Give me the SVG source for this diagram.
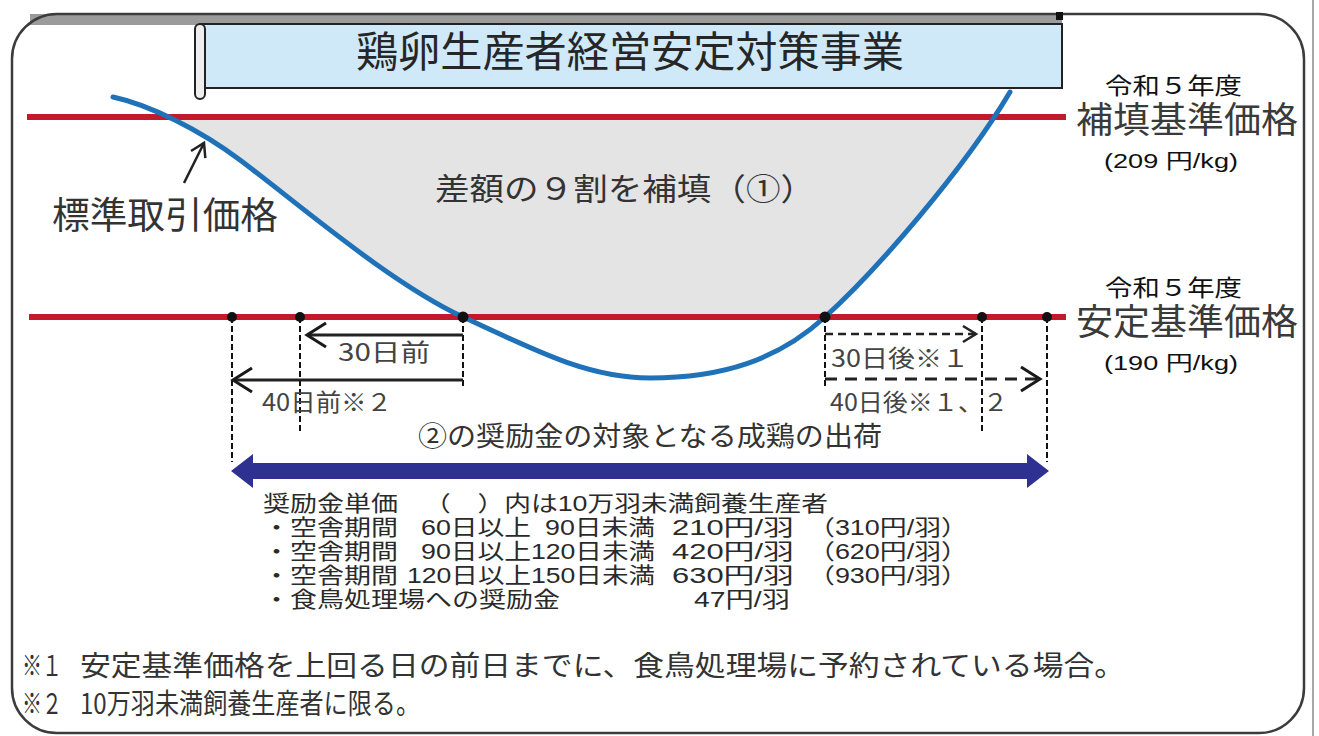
<svg xmlns="http://www.w3.org/2000/svg" width="1319" height="736" viewBox="0 0 1319 736">
  <style>
    text { font-family: "Noto Sans CJK JP", "Noto Sans", sans-serif; fill: #2a2a2a; }
    .title { font-size: 42px; fill: #262626; }
    .era { font-family: "Liberation Sans", "Noto Sans CJK JP", sans-serif; font-size: 23px; fill: #111; }
    .price { font-family: "Liberation Sans", "Noto Sans CJK JP", sans-serif; font-size: 36px; fill: #3a3a3a; }
    .yen { font-family: "Liberation Sans", "Noto Sans CJK JP", sans-serif; font-size: 21px; fill: #111; }
    .big { font-size: 31px; fill: #333; }
    .lbl { font-size: 24px; fill: #444; }
    .mid { font-size: 27px; fill: #333; }
    .tb { font-family: "Liberation Sans", "Noto Sans CJK JP", sans-serif; font-size: 21.5px; fill: #2a2a2a; }
    .fn { font-size: 28px; fill: #333; }
    .red { stroke: #c4182b; stroke-width: 6; }
    .vd { stroke: #111; stroke-width: 2; stroke-dasharray: 6 3; fill: none; }
    .dot { fill: #111; }
  </style>
  <defs>
    <marker id="chev" markerUnits="userSpaceOnUse" viewBox="0 0 24 28" refX="21" refY="14" markerWidth="24" markerHeight="28" orient="auto">
      <path d="M2,2 L21,14 L2,26" fill="none" stroke="#1a1a1a" stroke-width="3"/>
    </marker>
    <marker id="chevS" markerUnits="userSpaceOnUse" viewBox="0 0 18 20" refX="15" refY="10" markerWidth="18" markerHeight="20" orient="auto">
      <path d="M2,2 L15,10 L2,18" fill="none" stroke="#222" stroke-width="2.5"/>
    </marker>
    <clipPath id="band"><rect x="0" y="120" width="1319" height="197"/></clipPath>
  </defs>

  <rect width="1319" height="736" fill="#ffffff"/>

  <g id="frame">
    <line x1="1313" y1="0" x2="1313" y2="736" stroke="#a8a8a8" stroke-width="2"/>
    <rect x="30" y="14" width="1032" height="11" fill="#9b9b9b"/>
    <rect x="12" y="14" width="1292" height="719" rx="45" ry="45" fill="none" stroke="#3c3c3c" stroke-width="2.5"/>
  </g>

  <g id="title">
    <rect x="200" y="24" width="862" height="64" fill="#cfe9f8" stroke="#222" stroke-width="2"/>
    <rect x="195" y="24" width="10" height="75" rx="5" fill="#eeeeee" stroke="#222" stroke-width="2"/>
    <rect x="1056" y="12" width="7" height="8" fill="#111"/>
    <text class="title" x="356" y="67" textLength="548" lengthAdjust="spacingAndGlyphs">鶏卵生産者経営安定対策事業</text>
  </g>

  <g id="gap-area">
    <path d="M113,97 C150,105 200,130 240,160 C300,205 390,283 463,317 C540,353 590,378 650,378 C722,378 778,360 825,317 C877,270 965,168 1010,92 Z" fill="#e4e4e4" clip-path="url(#band)"/>
  </g>

  <g id="price-lines">
    <line class="red" x1="27" y1="117" x2="1066" y2="117"/>
    <line class="red" x1="29" y1="317" x2="1066" y2="317"/>
  </g>

  <g id="standard-price-curve">
    <path d="M113,97 C150,105 200,130 240,160 C300,205 390,283 463,317 C540,353 590,378 650,378 C722,378 778,360 825,317 C877,270 965,168 1010,92" fill="none" stroke="#1f72b8" stroke-width="5" stroke-linecap="round"/>
  </g>

  <g id="connectors">
    <line class="vd" x1="232" y1="317" x2="232" y2="462"/>
    <line class="vd" x1="300" y1="317" x2="300" y2="432"/>
    <line class="vd" x1="463" y1="317" x2="463" y2="388"/>
    <line class="vd" x1="825" y1="317" x2="825" y2="388"/>
    <line class="vd" x1="982" y1="317" x2="982" y2="432"/>
    <line class="vd" x1="1047" y1="317" x2="1047" y2="462"/>
    <line x1="184" y1="183" x2="204" y2="143" stroke="#222" stroke-width="2.5" marker-end="url(#chevS)"/>
    <line x1="463" y1="335" x2="307" y2="335" stroke="#222" stroke-width="3" marker-end="url(#chev)"/>
    <line x1="463" y1="380" x2="233" y2="380" stroke="#222" stroke-width="3" marker-end="url(#chev)"/>
    <line x1="825" y1="334" x2="976" y2="334" stroke="#222" stroke-width="2.5" stroke-dasharray="8 5" marker-end="url(#chevS)"/>
    <line x1="825" y1="379" x2="1040" y2="379" stroke="#222" stroke-width="3" stroke-dasharray="12 8" marker-end="url(#chev)"/>
    <path d="M231,471 L253,454 L253,463 L1027,463 L1027,454 L1049,471 L1027,488 L1027,479 L253,479 L253,488 Z" fill="#2e3192"/>
  </g>

  <g id="dots">
    <circle class="dot" cx="232" cy="317" r="5"/>
    <circle class="dot" cx="300" cy="317" r="5"/>
    <circle class="dot" cx="463" cy="317" r="5.5"/>
    <circle class="dot" cx="825" cy="317" r="5.5"/>
    <circle class="dot" cx="982" cy="317" r="5"/>
    <circle class="dot" cx="1047" cy="317" r="5"/>
  </g>

  <g id="label-compensation">
    <text class="era" x="1105" y="94" textLength="137" lengthAdjust="spacingAndGlyphs">令和５年度</text>
    <text class="price" x="1076" y="133" textLength="222" lengthAdjust="spacingAndGlyphs">補填基準価格</text>
    <text class="yen" x="1104" y="168" textLength="134" lengthAdjust="spacingAndGlyphs">(209 円/kg)</text>
  </g>

  <g id="label-stability">
    <text class="era" x="1105" y="296" textLength="137" lengthAdjust="spacingAndGlyphs">令和５年度</text>
    <text class="price" x="1076" y="335" textLength="222" lengthAdjust="spacingAndGlyphs">安定基準価格</text>
    <text class="yen" x="1104" y="370" textLength="134" lengthAdjust="spacingAndGlyphs">(190 円/kg)</text>
  </g>

  <g id="label-standard">
    <text x="52" y="229" style="font-size:37px;fill:#333" textLength="226" lengthAdjust="spacingAndGlyphs">標準取引価格</text>
  </g>

  <g id="label-gap">
    <text class="big" x="435" y="200" textLength="380" lengthAdjust="spacingAndGlyphs">差額の９割を補填（①）</text>
  </g>

  <g id="label-days">
    <text class="lbl" x="338" y="361" textLength="92" lengthAdjust="spacingAndGlyphs">30日前</text>
    <text class="lbl" x="262" y="411" textLength="130" lengthAdjust="spacingAndGlyphs">40日前※２</text>
    <text class="lbl" x="831" y="367" textLength="138" lengthAdjust="spacingAndGlyphs">30日後※１</text>
    <text class="lbl" x="830" y="411" textLength="178" lengthAdjust="spacingAndGlyphs">40日後※１、２</text>
  </g>

  <g id="label-shipment">
    <text class="mid" x="418" y="446" textLength="464" lengthAdjust="spacingAndGlyphs">②の奨励金の対象となる成鶏の出荷</text>
  </g>

  <g id="unit-prices">
    <text class="tb" lengthAdjust="spacingAndGlyphs"><tspan x="263" y="511" textLength="135" lengthAdjust="spacingAndGlyphs">奨励金単価</tspan><tspan x="424" y="511" textLength="404" lengthAdjust="spacingAndGlyphs">（　）内は10万羽未満飼養生産者</tspan><tspan x="263" y="535" textLength="135" lengthAdjust="spacingAndGlyphs">・空舎期間</tspan><tspan x="421" y="535" textLength="110" lengthAdjust="spacingAndGlyphs">60日以上</tspan><tspan x="545" y="535" textLength="110" lengthAdjust="spacingAndGlyphs">90日未満</tspan><tspan x="672" y="535" textLength="122" lengthAdjust="spacingAndGlyphs">210円/羽</tspan><tspan x="808" y="535" textLength="160" lengthAdjust="spacingAndGlyphs">（310円/羽）</tspan><tspan x="263" y="559" textLength="135" lengthAdjust="spacingAndGlyphs">・空舎期間</tspan><tspan x="421" y="559" textLength="110" lengthAdjust="spacingAndGlyphs">90日以上</tspan><tspan x="531" y="559" textLength="124" lengthAdjust="spacingAndGlyphs">120日未満</tspan><tspan x="672" y="559" textLength="122" lengthAdjust="spacingAndGlyphs">420円/羽</tspan><tspan x="808" y="559" textLength="160" lengthAdjust="spacingAndGlyphs">（620円/羽）</tspan><tspan x="263" y="583" textLength="135" lengthAdjust="spacingAndGlyphs">・空舎期間</tspan><tspan x="407" y="583" textLength="124" lengthAdjust="spacingAndGlyphs">120日以上</tspan><tspan x="531" y="583" textLength="124" lengthAdjust="spacingAndGlyphs">150日未満</tspan><tspan x="672" y="583" textLength="122" lengthAdjust="spacingAndGlyphs">630円/羽</tspan><tspan x="808" y="583" textLength="160" lengthAdjust="spacingAndGlyphs">（930円/羽）</tspan><tspan x="263" y="607" textLength="297" lengthAdjust="spacingAndGlyphs">・食鳥処理場への奨励金</tspan><tspan x="694" y="607" textLength="96" lengthAdjust="spacingAndGlyphs">47円/羽</tspan></text>
  </g>

  <g id="footnotes">
    <text class="fn" x="22" y="676" textLength="40" lengthAdjust="spacingAndGlyphs">※１</text>
    <text class="fn" x="80" y="676" textLength="1045" lengthAdjust="spacingAndGlyphs">安定基準価格を上回る日の前日までに、食鳥処理場に予約されている場合。</text>
    <text class="fn" x="22" y="714" textLength="40" lengthAdjust="spacingAndGlyphs">※２</text>
    <text class="fn" x="80" y="714" textLength="340" lengthAdjust="spacingAndGlyphs">10万羽未満飼養生産者に限る。</text>
  </g>
</svg>
